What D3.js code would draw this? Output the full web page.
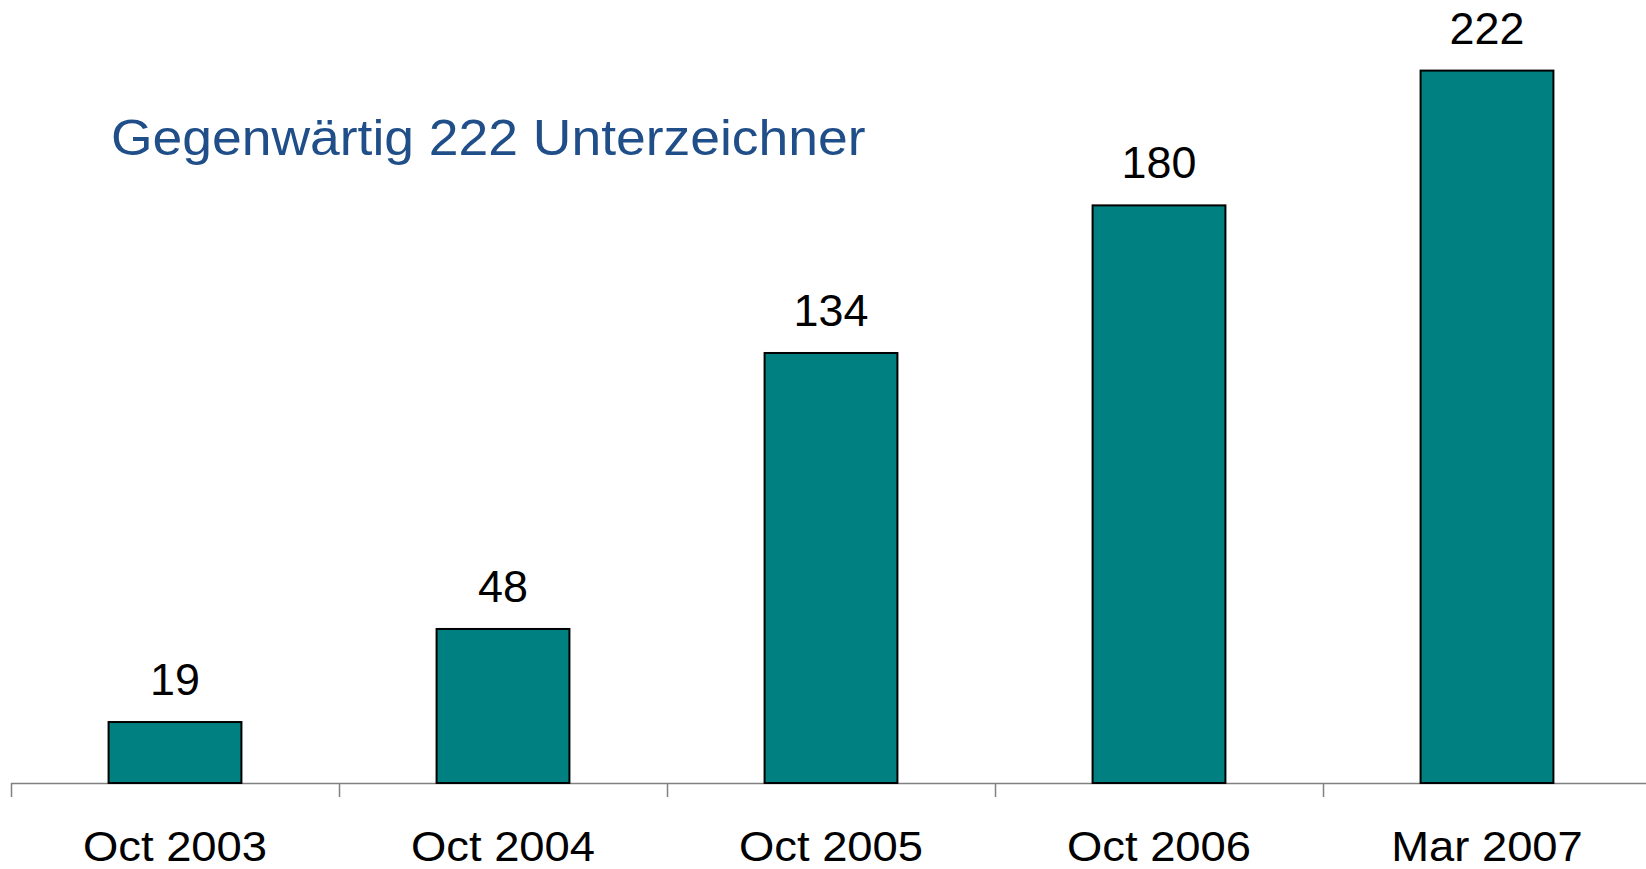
<!DOCTYPE html>
<html>
<head>
<meta charset="utf-8">
<script src="https://cdn.jsdelivr.net/npm/d3@7"></script>
<style>
  html, body { margin: 0; padding: 0; background: #fff; }
  svg { display: block; font-family: "Liberation Sans", Arial, sans-serif; }
</style>
</head>
<body>
<div id="chart"></div>
<script>
// data
var categories = ["Oct 2003", "Oct 2004", "Oct 2005", "Oct 2006", "Mar 2007"];
var values = [19, 48, 134, 180, 222];
var title = "Gegenwärtig 222 Unterzeichner";

var width = 1646;
var height = 869;
var baseY = 783;

var svg = d3.select("#chart")
    .append("svg")
    .attr("width", width)
    .attr("height", height);

var data = categories.map((c, i) => ({ cat: c, value: values[i] }));

var x = d3.scaleBand()
    .domain(categories)
    .range([11, 1651])
    .paddingInner(0)
    .paddingOuter(0);

var y = d3.scaleLinear()
    .domain([0, 244])
    .range([baseY, 0]);

var barW = x.bandwidth() * 0.405;

// baseline + ticks at band edges
svg.append("line")
    .attr("x1", x.range()[0])
    .attr("x2", width)
    .attr("y1", baseY + 0.5)
    .attr("y2", baseY + 0.5)
    .attr("stroke", "#808080")
    .attr("stroke-width", 1.5);

var edges = categories.map(c => x(c)).concat([x.range()[1]]);
svg.selectAll(".tick")
    .data(edges)
    .enter()
    .append("line")
    .attr("class", "tick")
    .attr("x1", d => d + 0.5)
    .attr("x2", d => d + 0.5)
    .attr("y1", baseY)
    .attr("y2", baseY + 14)
    .attr("stroke", "#808080")
    .attr("stroke-width", 1.5);

// bars
svg.selectAll(".bar")
    .data(data)
    .enter()
    .append("rect")
    .attr("class", "bar")
    .attr("x", d => x(d.cat) + x.bandwidth() / 2 - barW / 2)
    .attr("y", d => y(d.value))
    .attr("width", barW)
    .attr("height", d => baseY - y(d.value))
    .attr("fill", "#008080")
    .attr("stroke", "#000")
    .attr("stroke-width", 2);

// value labels
svg.selectAll(".val")
    .data(data)
    .enter()
    .append("text")
    .attr("class", "val")
    .attr("transform", d => `translate(${x(d.cat) + x.bandwidth() / 2},${y(d.value) - 27}) scale(1.02,1)`)
    .attr("text-anchor", "middle")
    .attr("font-size", 44)
    .attr("fill", "#000")
    .text(d => d.value);

// category labels
svg.selectAll(".cat")
    .data(data)
    .enter()
    .append("text")
    .attr("class", "cat")
    .attr("transform", d => `translate(${x(d.cat) + x.bandwidth() / 2},861) scale(1.08,1)`)
    .attr("text-anchor", "middle")
    .attr("font-size", 42)
    .attr("fill", "#000")
    .text(d => d.cat);

// title
svg.append("text")
    .attr("transform", "translate(111,155) scale(1.08,1)")
    .attr("font-size", 49.5)
    .attr("fill", "#1f4e89")
    .text(title);
</script>
</body>
</html>
